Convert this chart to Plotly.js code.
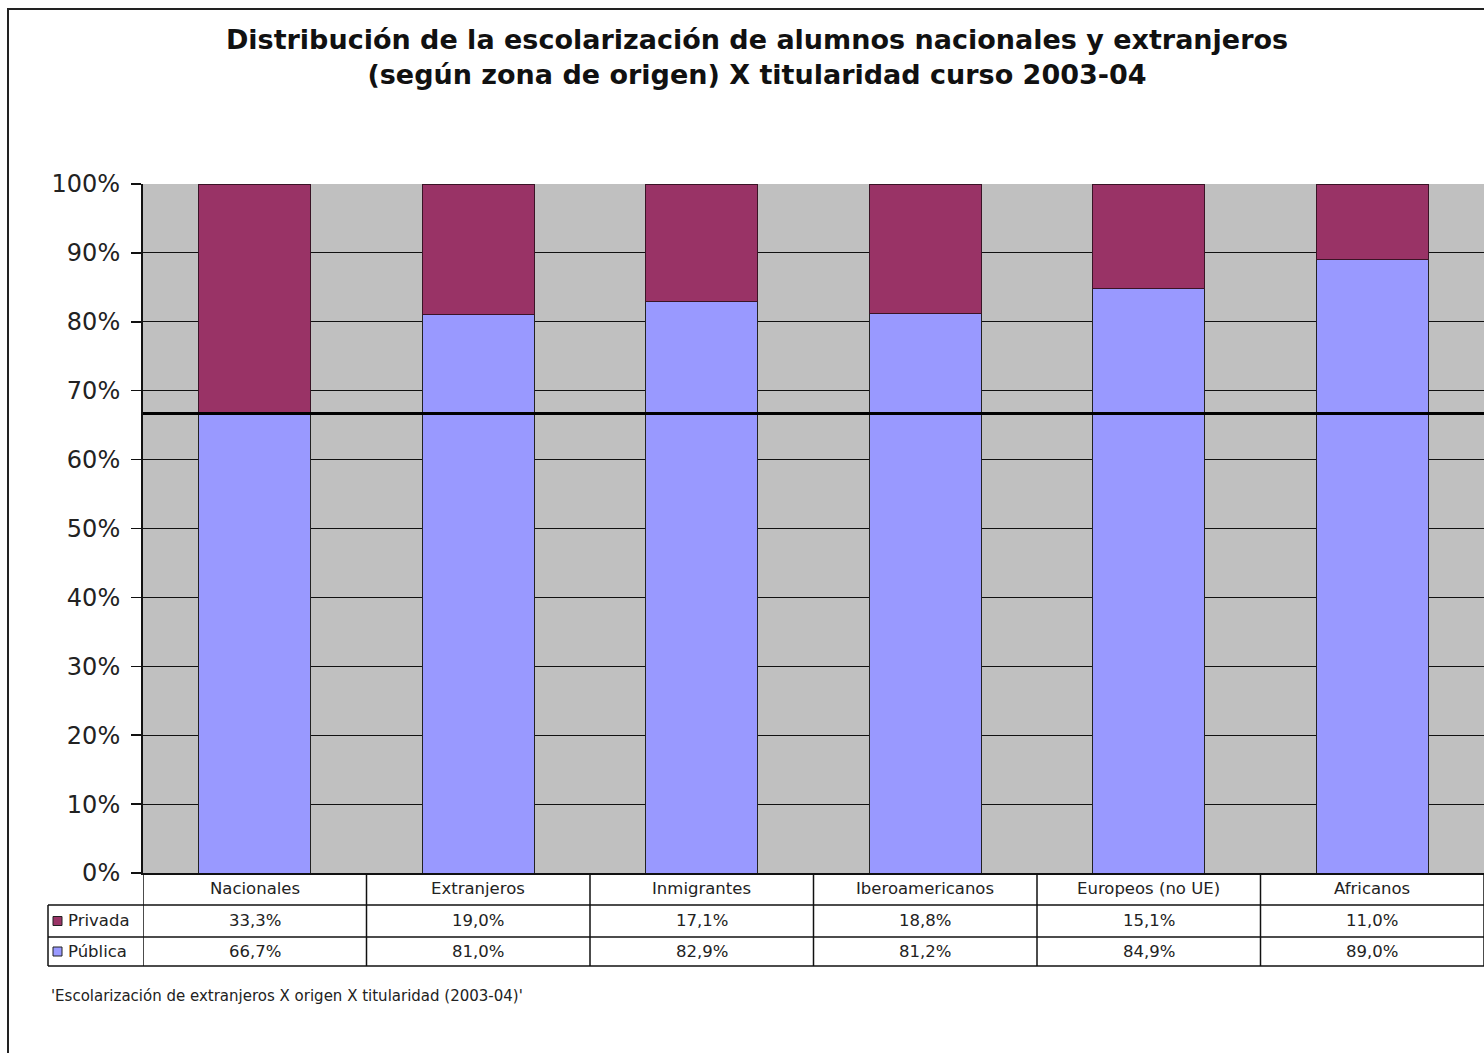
<!DOCTYPE html>
<html>
<head>
<meta charset="utf-8">
<script src="https://cdn.plot.ly/plotly-3.0.1.min.js"></script>
<style>html,body{margin:0;padding:0;background:#fff;}#chart{width:1484px;height:1053px;}</style>
</head>
<body>
<div id="chart"></div>
<script>
// ---- data ----
const categories = ["Nacionales", "Extranjeros", "Inmigrantes", "Iberoamericanos", "Europeos (no UE)", "Africanos"];
const privada = [33.3, 19.0, 17.1, 18.8, 15.1, 11.0];
const publica = [66.7, 81.0, 82.9, 81.2, 84.9, 89.0];
const seriesNames = ["Privada", "Pública"];
const titleText = "Distribución de la escolarización de alumnos nacionales y extranjeros<br>(según zona de origen) X titularidad curso 2003-04";
const footnote = "'Escolarización de extranjeros X origen X titularidad (2003-04)'";

// ---- styles ----
const FAM = "DejaVu Sans, Verdana, sans-serif";
const colPrivada = "#993366";
const colPublica = "#9999FF";
const W = 1484, H = 1053;
const M = {l: 143, r: 0, t: 184, b: 180};
const plotW = W - M.l - M.r, plotH = H - M.t - M.b;
const px = X => (X - M.l) / plotW;
const py = Y => (H - M.b - Y) / plotH;
const fmt = v => v.toFixed(1).replace(".", ",") + "%";
const txtFont = {family: FAM, size: 16.5, color: "#222"};

const traces = [
  {type: "bar", name: seriesNames[1], x: categories, y: publica, width: 0.5,
   marker: {color: colPublica, line: {color: "#222", width: 1}}},
  {type: "bar", name: seriesNames[0], x: categories, y: privada, width: 0.5,
   marker: {color: colPrivada, line: {color: "#3a1426", width: 1}}}
];

const shapes = [];
const annotations = [];
const rowTop = 873, r1 = 905, r2 = 937, r3 = 966, legL = 48;
const line = (x0, y0, x1, y1, xref, w) => ({type: "line", xref: xref, yref: "paper", x0, y0, x1, y1,
  line: {color: "#111", width: w || 1.5}, layer: "above"});
// table grid
shapes.push(line(px(legL), py(r1), 1, py(r1), "paper"));
shapes.push(line(px(legL), py(r2), 1, py(r2), "paper"));
shapes.push(line(px(legL), py(r3), 1, py(r3), "paper"));
shapes.push(line(px(legL), py(r1), px(legL), py(r3), "paper"));
for (let i = 0; i <= categories.length; i++) {
  shapes.push(line(i - 0.5, 0, i - 0.5, py(r3), "x"));
}
// reference line at the national public share
shapes.push({type: "line", xref: "paper", yref: "y", x0: 0, x1: 1, y0: publica[0], y1: publica[0],
  line: {color: "#000", width: 3}, layer: "above"});
// outer frame (left and top)
shapes.push({type: "line", xref: "paper", yref: "paper", x0: px(8), x1: px(8), y0: py(9), y1: py(1060),
  line: {color: "#222", width: 2}, layer: "above"});
shapes.push({type: "line", xref: "paper", yref: "paper", x0: px(7), x1: px(1490), y0: py(9), y1: py(9),
  line: {color: "#222", width: 2}, layer: "above"});

// table texts
const rowMid = [(rowTop + r1) / 2, (r1 + r2) / 2, (r2 + r3) / 2];
categories.forEach((c, i) => {
  annotations.push({xref: "x", yref: "paper", x: c, y: py(rowMid[0]), text: c, showarrow: false, font: txtFont, yanchor: "middle"});
  annotations.push({xref: "x", yref: "paper", x: c, y: py(rowMid[1]), text: fmt(privada[i]), showarrow: false, font: txtFont, yanchor: "middle"});
  annotations.push({xref: "x", yref: "paper", x: c, y: py(rowMid[2]), text: fmt(publica[i]), showarrow: false, font: txtFont, yanchor: "middle"});
});
// legend keys in table
[[seriesNames[0], colPrivada, rowMid[1]], [seriesNames[1], colPublica, rowMid[2]]].forEach(([n, c, ym]) => {
  shapes.push({type: "rect", xref: "paper", yref: "paper", x0: px(53), x1: px(62), y0: py(ym + 4.5), y1: py(ym - 4.5),
    fillcolor: c, line: {color: "#222", width: 1}, layer: "above"});
  annotations.push({xref: "paper", yref: "paper", x: px(66), y: py(ym), xanchor: "left", yanchor: "middle",
    text: n, showarrow: false, font: txtFont});
});
// footnote
annotations.push({xref: "paper", yref: "paper", x: px(49), y: py(996), xanchor: "left", yanchor: "middle",
  text: footnote, showarrow: false, font: {family: FAM, size: 15, color: "#222"}});

const layout = {
  width: W, height: H,
  margin: M,
  paper_bgcolor: "#fff",
  plot_bgcolor: "#C0C0C0",
  barmode: "stack",
  showlegend: false,
  title: {text: titleText, xref: "container", x: 757 / W, xanchor: "center",
    yref: "container", y: 1 - 49 / H, yanchor: "top",
    font: {family: FAM, size: 27, weight: "bold", color: "#111"}},
  xaxis: {type: "category", range: [-0.5, categories.length - 0.5], showticklabels: false,
    showline: true, linecolor: "#111", linewidth: 1.5, ticks: "", showgrid: false, fixedrange: true},
  yaxis: {range: [0, 100], dtick: 10, tick0: 0, ticksuffix: "%", showgrid: true, gridcolor: "#111", gridwidth: 1,
    showline: true, linecolor: "#111", linewidth: 2, ticks: "outside", ticklen: 10, tickcolor: "#111", tickwidth: 1.5,
    ticklabelstandoff: 6, zeroline: false,
    tickfont: {family: FAM, size: 24, color: "#222"}, fixedrange: true},
  shapes: shapes,
  annotations: annotations
};

Plotly.newPlot("chart", traces, layout, {staticPlot: true, displayModeBar: false});
</script>
</body>
</html>
